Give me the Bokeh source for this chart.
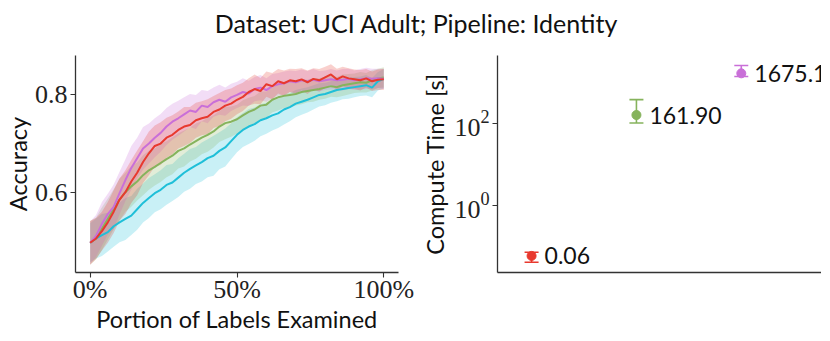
from bokeh.plotting import figure
from bokeh.layouts import column, row
from bokeh.models import ColumnDataSource, FixedTicker, Whisker, TeeHead, Range1d
from bokeh.core.properties import value
from bokeh.embed import file_html
from bokeh.resources import INLINE

# ---------------- data ----------------
title_text = "Dataset: UCI Adult; Pipeline: Identity"

portion = [k / 50 for k in range(51)]  # 0% .. 100% in 2% steps

acc_red = [0.496, 0.505, 0.520, 0.538, 0.560, 0.585, 0.600, 0.622, 0.640, 0.662,
           0.680, 0.695, 0.700, 0.712, 0.718, 0.728, 0.735, 0.738, 0.748, 0.752,
           0.755, 0.765, 0.770, 0.778, 0.782, 0.790, 0.796, 0.806, 0.812, 0.808,
           0.822, 0.818, 0.828, 0.824, 0.830, 0.828, 0.832, 0.826, 0.833, 0.830,
           0.836, 0.842, 0.832, 0.838, 0.834, 0.832, 0.830, 0.834, 0.828, 0.831,
           0.832]
sd_red = [0.045, 0.042, 0.040, 0.042, 0.044, 0.043, 0.045, 0.044, 0.046, 0.043,
          0.045, 0.042, 0.044, 0.041, 0.040, 0.038, 0.040, 0.037, 0.036, 0.035,
          0.036, 0.033, 0.034, 0.032, 0.031, 0.030, 0.029, 0.028, 0.030, 0.027,
          0.026, 0.027, 0.025, 0.026, 0.024, 0.025, 0.023, 0.024, 0.022, 0.023,
          0.022, 0.021, 0.022, 0.020, 0.021, 0.020, 0.021, 0.019, 0.020, 0.021,
          0.022]

acc_purple = [0.496, 0.510, 0.535, 0.555, 0.570, 0.598, 0.625, 0.650, 0.670, 0.690,
              0.700, 0.712, 0.722, 0.735, 0.745, 0.752, 0.760, 0.768, 0.765, 0.778,
              0.775, 0.785, 0.790, 0.786, 0.795, 0.800, 0.806, 0.803, 0.812, 0.815,
              0.810, 0.818, 0.822, 0.824, 0.828, 0.826, 0.830, 0.828, 0.831, 0.828,
              0.830, 0.832, 0.830, 0.831, 0.833, 0.830, 0.832, 0.834, 0.833, 0.834,
              0.833]
sd_purple = [0.044, 0.043, 0.045, 0.042, 0.046, 0.044, 0.043, 0.045, 0.042, 0.044,
             0.041, 0.040, 0.039, 0.038, 0.037, 0.036, 0.035, 0.034, 0.035, 0.032,
             0.033, 0.030, 0.031, 0.029, 0.028, 0.027, 0.028, 0.026, 0.025, 0.026,
             0.024, 0.025, 0.023, 0.024, 0.022, 0.023, 0.022, 0.021, 0.022, 0.021,
             0.020, 0.021, 0.020, 0.022, 0.021, 0.020, 0.021, 0.022, 0.021, 0.020,
             0.021]

acc_green = [0.496, 0.505, 0.525, 0.545, 0.565, 0.585, 0.600, 0.612, 0.622, 0.635,
             0.645, 0.652, 0.660, 0.668, 0.675, 0.685, 0.690, 0.698, 0.705, 0.712,
             0.718, 0.725, 0.735, 0.742, 0.745, 0.750, 0.758, 0.765, 0.770, 0.778,
             0.780, 0.790, 0.795, 0.798, 0.800, 0.802, 0.806, 0.808, 0.810, 0.812,
             0.815, 0.818, 0.816, 0.820, 0.822, 0.824, 0.826, 0.825, 0.830, 0.834,
             0.836]
sd_green = [0.045, 0.043, 0.044, 0.042, 0.041, 0.043, 0.040, 0.042, 0.039, 0.041,
            0.040, 0.038, 0.039, 0.037, 0.038, 0.036, 0.037, 0.035, 0.036, 0.034,
            0.035, 0.033, 0.032, 0.033, 0.031, 0.030, 0.031, 0.029, 0.028, 0.029,
            0.027, 0.026, 0.027, 0.025, 0.026, 0.024, 0.025, 0.023, 0.024, 0.022,
            0.023, 0.022, 0.021, 0.022, 0.021, 0.020, 0.021, 0.020, 0.021, 0.020,
            0.021]

acc_cyan = [0.496, 0.505, 0.512, 0.518, 0.530, 0.538, 0.545, 0.552, 0.565, 0.578,
            0.588, 0.598, 0.605, 0.615, 0.620, 0.630, 0.640, 0.648, 0.655, 0.662,
            0.670, 0.675, 0.685, 0.692, 0.705, 0.718, 0.728, 0.735, 0.740, 0.748,
            0.752, 0.758, 0.762, 0.770, 0.775, 0.782, 0.786, 0.790, 0.795, 0.800,
            0.802, 0.806, 0.810, 0.812, 0.814, 0.816, 0.818, 0.820, 0.815, 0.828,
            0.833]
sd_cyan = [0.040, 0.041, 0.043, 0.040, 0.042, 0.041, 0.043, 0.040, 0.042, 0.040,
           0.041, 0.039, 0.040, 0.041, 0.038, 0.040, 0.039, 0.041, 0.038, 0.040,
           0.039, 0.041, 0.038, 0.039, 0.037, 0.036, 0.035, 0.036, 0.034, 0.033,
           0.032, 0.031, 0.030, 0.031, 0.029, 0.028, 0.027, 0.026, 0.025, 0.024,
           0.023, 0.022, 0.023, 0.021, 0.022, 0.021, 0.020, 0.021, 0.020, 0.019,
           0.020]

x_ticks = [0.0, 0.5, 1.0]
x_tick_labels = ["0%", "50%", "100%"]
acc_ticks = [0.6, 0.8]

# compute time panel
time_pos = [0, 1, 2]
time_mean = [0.06, 161.90, 1675.19]
time_low = [0.042, 103.0, 1406.0]
time_high = [0.074, 383.0, 2600.0]
time_ticks = [1, 100]

C_RED = "#e8392e"
C_PURPLE = "#c96fd8"
C_GREEN = "#86b35c"
C_CYAN = "#1fbfd8"

series = [
    (acc_cyan, sd_cyan, C_CYAN),
    (acc_green, sd_green, C_GREEN),
    (acc_purple, sd_purple, C_PURPLE),
    (acc_red, sd_red, C_RED),
]
time_colors = [C_RED, C_GREEN, C_PURPLE]

SANS = "Lato"
SERIF = "Liberation Serif"
AX = "#333333"

def style_axes(p):
    for ax in p.axis:
        ax.axis_line_color = AX
        ax.axis_line_width = 1.3
        ax.major_tick_line_color = AX
        ax.major_tick_line_width = 1.1
        ax.major_tick_out = 5
        ax.major_tick_in = 0
        ax.minor_tick_line_color = None
        ax.major_label_text_font = SERIF
        ax.major_label_text_font_size = "26px"
        ax.major_label_text_color = "#222222"
        ax.axis_label_text_font = SANS
        ax.axis_label_text_font_size = "23.5px"
        ax.axis_label_text_font_style = "normal"
        ax.axis_label_text_color = "#111111"
    p.xgrid.grid_line_color = None
    p.ygrid.grid_line_color = None
    p.outline_line_color = None
    p.background_fill_color = "white"
    p.border_fill_color = "white"

# ---------------- title ----------------
pt = figure(width=814, height=52, x_range=Range1d(0, 1), y_range=Range1d(0, 1),
            output_backend="svg", toolbar_location=None, min_border=0)
pt.axis.visible = False
pt.xgrid.grid_line_color = None
pt.ygrid.grid_line_color = None
pt.outline_line_color = None
pt.text(x=[0.511], y=[0.57], text=[title_text], text_align="center",
        text_baseline="middle", text_font=value(SANS), text_font_size="25px",
        text_color="#111111")

# ---------------- accuracy panel ----------------
p1 = figure(frame_width=323, frame_height=217, x_range=Range1d(-0.05, 1.05),
            y_range=Range1d(0.435, 0.881), output_backend="svg",
            toolbar_location=None, min_border_left=68, min_border_right=17,
            min_border_top=3, min_border_bottom=60)
for mean, sd, col in series:
    lo = [m - s for m, s in zip(mean, sd)]
    hi = [m + s for m, s in zip(mean, sd)]
    p1.varea(x=portion, y1=lo, y2=hi, fill_color=col, fill_alpha=0.24)
for mean, sd, col in series:
    p1.line(x=portion, y=mean, line_color=col, line_width=2.0)
style_axes(p1)
p1.xaxis.ticker = FixedTicker(ticks=x_ticks)
p1.xaxis.major_label_overrides = {t: l for t, l in zip(x_ticks, x_tick_labels)}
p1.yaxis.ticker = FixedTicker(ticks=acc_ticks)
p1.xaxis.axis_label = "Portion of Labels Examined"
p1.yaxis.axis_label = "Accuracy"
p1.xaxis.major_label_standoff = -3
p1.xaxis.axis_label_standoff = -2
p1.yaxis.major_label_standoff = 3
p1.yaxis.axis_label_standoff = 0

# ---------------- compute time panel ----------------
p2 = figure(frame_width=324, frame_height=217, x_range=Range1d(-0.325, 2.765),
            y_range=Range1d(0.0237, 4550), y_axis_type="log",
            output_backend="svg", toolbar_location=None,
            min_border_left=82, min_border_right=0,
            min_border_top=3, min_border_bottom=60)
for i in range(len(time_pos)):
    src = ColumnDataSource(dict(x=[time_pos[i]], lo=[time_low[i]], hi=[time_high[i]]))
    w = Whisker(base="x", lower="lo", upper="hi", source=src, dimension="height",
                line_color=time_colors[i], line_width=1.6,
                upper_head=TeeHead(size=14, line_color=time_colors[i], line_width=1.6),
                lower_head=TeeHead(size=14, line_color=time_colors[i], line_width=1.6))
    p2.add_layout(w)
p2.scatter(x=time_pos, y=time_mean, size=9, color=time_colors)
p2.text(x=time_pos, y=time_mean, text=[f"{v:.2f}" for v in time_mean], x_offset=13,
        text_baseline="middle", text_font=value(SANS), text_font_size="23px",
        text_color="#111111")
style_axes(p2)
p2.xaxis.ticker = FixedTicker(ticks=[])
p2.xaxis.major_tick_line_color = None
p2.yaxis.ticker = FixedTicker(ticks=time_ticks, minor_ticks=[])
p2.yaxis.axis_label = "Compute Time [s]"
p2.yaxis.major_label_standoff = 3
p2.yaxis.axis_label_standoff = 2

layout = column(pt, row(p1, p2, spacing=0), spacing=0)
open("out.html", "w").write(file_html(layout, INLINE))
